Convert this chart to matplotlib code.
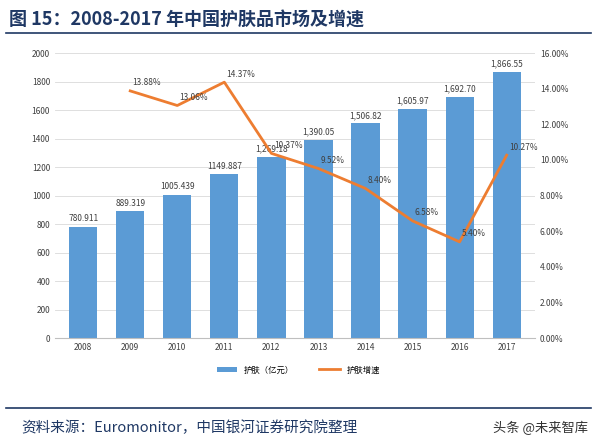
import matplotlib
matplotlib.use("Agg")
import matplotlib.pyplot as plt
from matplotlib.ticker import FuncFormatter

plt.rcParams['font.family'] = ['Noto Sans CJK SC', 'DejaVu Sans']

years = ['2008','2009','2010','2011','2012','2013','2014','2015','2016','2017']
sales = [780.911, 889.319, 1005.439, 1149.887, 1269.18, 1390.05, 1506.82, 1605.97, 1692.70, 1866.55]
sales_labels = ['780.911','889.319','1005.439','1149.887','1,269.18','1,390.05','1,506.82','1,605.97','1,692.70','1,866.55']
growth_years = years[1:]
growth = [13.88, 13.06, 14.37, 10.37, 9.52, 8.40, 6.58, 5.40, 10.27]

fig = plt.figure(figsize=(5.97, 4.43), dpi=100)
ax = fig.add_axes([0.092, 0.237, 0.804, 0.643])
x = list(range(len(years)))
bars = ax.bar(x, sales, width=0.6, color='#5B9BD5', label='护肤（亿元）', zorder=2)
ax.set_ylim(0, 2000)
ax.set_yticks(range(0, 2001, 200))
ax.set_xlim(-0.6, len(years)-0.4)
ax.set_xticks(x)
ax.set_xticklabels(years)
ax.tick_params(labelsize=6, colors='#404040', length=0)
ax.grid(axis='y', color='#D9D9D9', lw=0.6, zorder=0)
for s in ['top', 'right', 'left']:
    ax.spines[s].set_visible(False)
ax.spines['bottom'].set_color('#BFBFBF')
for xi, v, t in zip(x, sales, sales_labels):
    ax.text(xi, v + 25, t, ha='center', va='bottom', fontsize=6, color='#404040')

ax2 = ax.twinx()
gx = x[1:]
ax2.plot(gx, growth, color='#ED7D31', lw=2, label='护肤增速')
ax2.set_ylim(0, 16)
ax2.set_yticks(range(0, 17, 2))
ax2.yaxis.set_major_formatter(FuncFormatter(lambda v, p: f'{v:.2f}%'))
ax2.tick_params(labelsize=6, colors='#404040', length=0)
for s in ['top', 'right', 'left', 'bottom']:
    ax2.spines[s].set_visible(False)
for xi, v in zip(gx, growth):
    ax2.text(xi + 0.05, v + 0.2, f'{v:.2f}%', ha='left', va='bottom', fontsize=6, color='#404040')

h1, l1 = ax.get_legend_handles_labels()
h2, l2 = ax2.get_legend_handles_labels()
fig.legend(h1 + h2, l1 + l2, loc='center', bbox_to_anchor=(0.5, 0.165), ncol=2,
           frameon=False, fontsize=6, handlelength=2.5, columnspacing=3)

fig.text(0.015, 0.955, '图 15：2008-2017 年中国护肤品市场及增速', fontsize=13,
         fontweight='bold', color='#1F3864', va='center',
         family=['Noto Sans CJK SC', 'DejaVu Sans'])
fig.add_artist(plt.Line2D([0.01, 0.99], [0.925, 0.925], color='#1F3864', lw=1.2))
fig.add_artist(plt.Line2D([0.01, 0.99], [0.078, 0.078], color='#1F3864', lw=1.2))
fig.text(0.035, 0.035, '资料来源：Euromonitor，中国银河证券研究院整理', fontsize=10.5,
         style='italic', color='#1F3864', va='center')
fig.text(0.985, 0.035, '头条 @未来智库', fontsize=9.5, color='#333333', ha='right', va='center')

fig.savefig('out.png', dpi=100)
